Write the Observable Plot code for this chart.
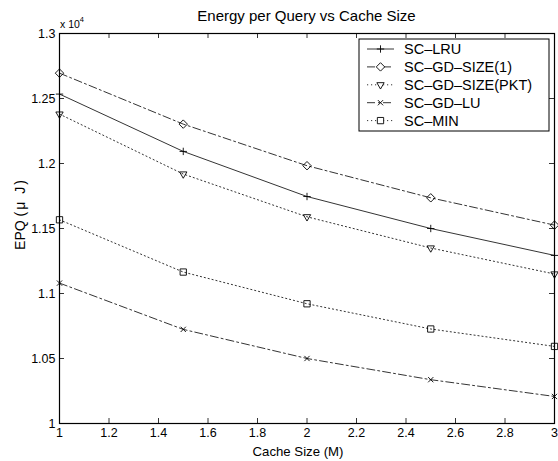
<!DOCTYPE html>
<html>
<head>
<meta charset="utf-8">
<script src="https://cdn.jsdelivr.net/npm/d3@7"></script>
<script src="https://cdn.jsdelivr.net/npm/@observablehq/plot@0.6"></script>
<style>
  html, body { margin: 0; padding: 0; background: #fff; }
  #chart { width: 558px; height: 461px; }
  svg { font-family: "Liberation Sans", Arial, Helvetica, sans-serif; }
</style>
</head>
<body>
<div id="chart"></div>
<script>
// ---- data (EPQ in µJ) ----
const cacheSizes = [1, 1.5, 2, 2.5, 3];
const scLRU      = [12534, 12093, 11746, 11500, 11293];
const scGDSize1  = [12695, 12303, 11983, 11736, 11526];
const scGDSizePKT= [12380, 11919, 11590, 11350, 11150];
const scGDLU     = [11080, 10724, 10500, 10337, 10208];
const scMIN      = [11567, 11165, 10921, 10727, 10593];
const seriesNames = ["SC–LRU", "SC–GD–SIZE(1)", "SC–GD–SIZE(PKT)", "SC–GD–LU", "SC–MIN"];
const xTicks = [1, 1.2, 1.4, 1.6, 1.8, 2, 2.2, 2.4, 2.6, 2.8, 3];
const yTicks = [10000, 10500, 11000, 11500, 12000, 12500, 13000];

// ---- styles ----
const seriesValues = [scLRU, scGDSize1, scGDSizePKT, scGDLU, scMIN];
const styles = [
  {dash: null,        symbol: "plus",      r: 2.5, rotate: 0},
  {dash: "8,3,2,3",   symbol: "diamond2",  r: 3.8, rotate: 0},
  {dash: "1.2,2.8",   symbol: "triangle2", r: 3.5, rotate: 180},
  {dash: "8,3,2,3",   symbol: "times",     r: 2.5, rotate: 0},
  {dash: "1.2,2.8",   symbol: "square2",   r: 4.0, rotate: 0}
];

const W = 558, H = 461;
const mL = 59, mR = 4, mT = 33, mB = 38;
const innerW = W - mL - mR, innerH = H - mT - mB;
const tickLen = 5;

const marks = [];
seriesNames.forEach((name, k) => {
  const rows = cacheSizes.map((x, i) => ({x, y: seriesValues[k][i], series: name}));
  const s = styles[k];
  marks.push(Plot.line(rows, {x: "x", y: "y", stroke: "black", strokeWidth: 0.8, strokeDasharray: s.dash}));
  marks.push(Plot.dot(rows, {x: "x", y: "y", symbol: s.symbol, r: s.r, rotate: s.rotate, stroke: "black", strokeWidth: 0.9, fill: "none"}));
});

// inward ticks on all four sides
marks.push(Plot.tickX(xTicks, {x: d => d, stroke: "black", strokeWidth: 0.8, insetTop: innerH - tickLen}));
marks.push(Plot.tickX(xTicks, {x: d => d, stroke: "black", strokeWidth: 0.8, insetBottom: innerH - tickLen}));
marks.push(Plot.tickY(yTicks, {y: d => d, stroke: "black", strokeWidth: 0.8, insetRight: innerW - tickLen}));
marks.push(Plot.tickY(yTicks, {y: d => d, stroke: "black", strokeWidth: 0.8, insetLeft: innerW - tickLen}));
marks.push(Plot.axisX(xTicks, {tickSize: 0, tickPadding: 5, fontSize: 12.5, label: null, tickFormat: d => String(+d.toFixed(2))}));
marks.push(Plot.axisY(yTicks, {tickSize: 0, tickPadding: 4, fontSize: 12.5, label: null, tickFormat: d => String(+(d / 1e4).toFixed(2))}));
marks.push(Plot.frame({stroke: "black", strokeWidth: 1.2}));

const plot = Plot.plot({
  width: W, height: H,
  marginLeft: mL, marginRight: mR, marginTop: mT, marginBottom: mB,
  style: {fontFamily: "Liberation Sans, Arial, sans-serif", color: "black", background: "white"},
  x: {domain: [1, 3]},
  y: {domain: [10000, 13000]},
  marks
});

document.getElementById("chart").appendChild(plot);

// ---- extra text & legend ----
const svg = d3.select(plot);
svg.append("text").attr("x", mL + innerW / 2).attr("y", 21).attr("text-anchor", "middle")
  .attr("font-size", 15).text("Energy per Query vs Cache Size");
svg.append("text").attr("x", 298).attr("y", 456).attr("text-anchor", "middle")
  .attr("font-size", 13.2).text("Cache Size (M)");
const yl = svg.append("text").attr("transform", `translate(25,214) rotate(-90)`).attr("text-anchor", "middle")
  .attr("font-size", 14);
yl.append("tspan").text("EPQ ");
yl.append("tspan").attr("letter-spacing", 2).text("(μ J)");
const ex = svg.append("text").attr("x", 60).attr("y", 27.5).attr("font-size", 10.5).attr("text-anchor", "start");
ex.append("tspan").text("x 10");
ex.append("tspan").attr("font-size", 7.5).attr("dy", -6).text("4");

const lg = svg.append("g").attr("text-anchor", "start");
const lx = 359, ly = 39, lw = 190, lh = 92;
lg.append("rect").attr("x", lx).attr("y", ly).attr("width", lw).attr("height", lh)
  .attr("fill", "white").attr("stroke", "black").attr("stroke-width", 1);
const symMap = {plus: d3.symbolPlus, diamond2: d3.symbolDiamond2, triangle2: d3.symbolTriangle2, times: d3.symbolTimes, square2: d3.symbolSquare2};
seriesNames.forEach((name, k) => {
  const s = styles[k];
  const cy = 49 + k * 17.9;
  lg.append("line").attr("x1", 367).attr("x2", 394).attr("y1", cy).attr("y2", cy)
    .attr("stroke", "black").attr("stroke-width", 0.8).attr("stroke-dasharray", s.dash);
  lg.append("path").attr("d", d3.symbol(symMap[s.symbol], s.r * s.r * Math.PI)())
    .attr("transform", `translate(380.5,${cy}) rotate(${s.rotate})`)
    .attr("fill", "white").attr("stroke", "black").attr("stroke-width", 0.9);
  lg.append("text").attr("x", 404).attr("y", cy + 5).attr("font-size", 14.5).attr("text-anchor", "start").text(name);
});
</script>
</body>
</html>
